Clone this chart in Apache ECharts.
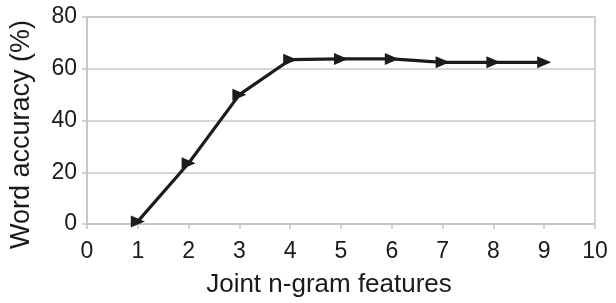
<!DOCTYPE html>
<html>
<head>
<meta charset="utf-8">
<script src="https://cdn.jsdelivr.net/npm/echarts@6/dist/echarts.min.js"></script>
<style>
html,body{margin:0;padding:0;background:#fff;}
#chart{width:616px;height:303px;}
</style>
</head>
<body>
<div id="chart"></div>
<script>
var xValues = [1, 2, 3, 4, 5, 6, 7, 8, 9];
var accuracy = [1, 23.5, 50, 63.5, 63.8, 63.8, 62.5, 62.5, 62.5];
var xTicks = [0, 1, 2, 3, 4, 5, 6, 7, 8, 9, 10];
var yTicks = [0, 20, 40, 60, 80];

var chart = echarts.init(document.getElementById('chart'));
var font = 'Liberation Sans, Arial, sans-serif';
chart.setOption({
  animation: false,
  grid: {left: 83, right: 21, top: 17, bottom: 73, show: true, borderColor: '#c4c4c4', borderWidth: 1.5, backgroundColor: 'transparent'},
  xAxis: {
    type: 'value', min: xTicks[0], max: xTicks[xTicks.length - 1], interval: 1,
    name: 'Joint n-gram features', nameLocation: 'middle', nameGap: 48,
    nameTextStyle: {fontFamily: font, fontSize: 26, color: '#1a1a1a', padding: [0, 24, 0, 0]},
    axisLine: {show: true, lineStyle: {color: '#c4c4c4', width: 1.5}},
    axisTick: {show: true, length: 5, lineStyle: {color: '#c4c4c4', width: 1.5}},
    axisLabel: {fontFamily: font, fontSize: 23, color: '#1a1a1a', margin: 16},
    splitLine: {show: false}
  },
  yAxis: {
    type: 'value', min: yTicks[0], max: yTicks[yTicks.length - 1], interval: 20,
    name: 'Word accuracy (%)', nameLocation: 'middle', nameGap: 52,
    nameTextStyle: {fontFamily: font, fontSize: 27, color: '#1a1a1a', padding: [0, 28, 0, 0]},
    axisLine: {show: true, lineStyle: {color: '#c4c4c4', width: 1.5}},
    axisTick: {show: true, length: 5, lineStyle: {color: '#c4c4c4', width: 1.5}},
    axisLabel: {fontFamily: font, fontSize: 23, color: '#1a1a1a', margin: 10},
    splitLine: {show: true, lineStyle: {color: '#c8c8c8', width: 1.5}}
  },
  series: [{
    type: 'line',
    data: xValues.map(function (x, i) { return [x, accuracy[i]]; }),
    symbol: 'triangle', symbolSize: [12, 14], symbolRotate: -90,
    showAllSymbol: true,
    lineStyle: {color: '#1c1c1c', width: 3.2},
    itemStyle: {color: '#1c1c1c'}
  }]
});
</script>
</body>
</html>
